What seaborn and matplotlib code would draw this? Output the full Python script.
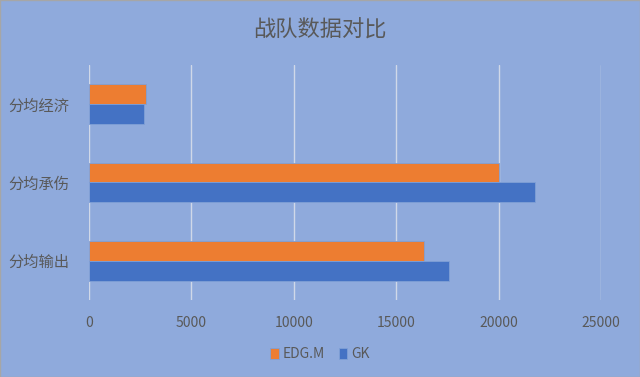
import matplotlib.pyplot as plt
import pandas as pd
import seaborn as sns

categories = ["分均经济", "分均承伤", "分均输出"]
teams = ["EDG.M", "GK"]
edgm_values = [2800, 20000, 16350]
gk_values = [2700, 21800, 17580]
x_ticks = [0, 5000, 10000, 15000, 20000, 25000]

BG = "#8FAADC"
GREY = "#595959"

sns.set_theme(style="white")
plt.rcParams["font.family"] = ["Noto Sans CJK SC", "DejaVu Sans"]

df = pd.DataFrame({
    "类别": categories * 2,
    "战队": [teams[0]] * 3 + [teams[1]] * 3,
    "数值": edgm_values + gk_values,
})

fig = plt.figure(figsize=(6.4, 3.77), dpi=100, facecolor=BG)
ax = fig.add_axes([0.139, 0.205, 0.8, 0.622])
ax.set_facecolor(BG)

sns.barplot(
    data=df, x="数值", y="类别", hue="战队", order=categories, hue_order=teams,
    palette=["#ED7D31", "#4472C4"], width=0.51, ax=ax, saturation=1,
    edgecolor="#7f9fd6", linewidth=0.6,
)

ax.set_xlim(0, 25000)
ax.set_xticks(x_ticks)
ax.set_xticklabels([str(t) for t in x_ticks])
ax.grid(axis="x", color="#D0D8E8", linewidth=1)
ax.set_axisbelow(True)
for s in ax.spines.values():
    s.set_visible(False)
ax.set_xlabel("")
ax.set_ylabel("")
ax.tick_params(axis="x", colors=GREY, labelsize=10, length=0, pad=12)
ax.tick_params(axis="y", colors=GREY, labelsize=11, length=0, pad=14)

fig.suptitle("战队数据对比", x=0.5, y=0.95, fontsize=16, color=GREY)

handles, labels = ax.get_legend_handles_labels()
ax.legend_.remove()
fig.legend(
    handles, labels, loc="center", bbox_to_anchor=(0.5, 0.06), ncol=2,
    frameon=False, fontsize=10, labelcolor=GREY, handlelength=0.6,
    handleheight=0.9, handletextpad=0.3, columnspacing=1.0,
)

fig.patches.append(plt.Rectangle((0, 0), 1, 1, transform=fig.transFigure,
                                 fill=False, edgecolor="#A6A6A6", linewidth=1))

fig.savefig("out.png", dpi=100, facecolor=BG)
